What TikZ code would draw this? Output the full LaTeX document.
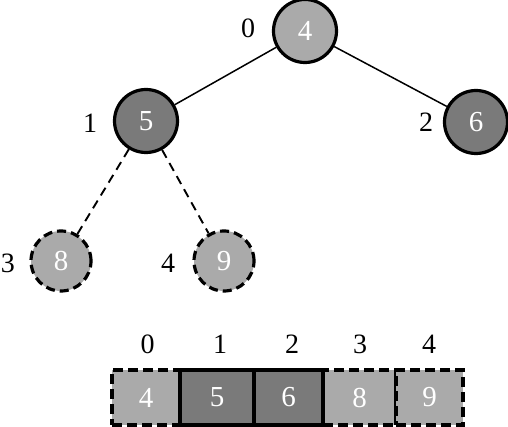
\documentclass[tikz,border=0pt]{standalone}
\usepackage{fontspec}
\setmainfont{Liberation Serif}
\definecolor{lightg}{RGB}{170,170,170}
\definecolor{darkg}{RGB}{122,122,122}
\tikzset{
  heapnode/.style={circle, minimum size=#1, inner sep=0pt, line width=3.2pt, text=white, font=\fontsize{29}{29}\selectfont},
  solidnode/.style={heapnode=63pt, draw=black, fill=darkg},
  rootnode/.style={heapnode=63pt, draw=black, fill=lightg},
  newnode/.style={heapnode=60pt, draw=black, fill=lightg, dash pattern=on 9pt off 5pt},
  idx/.style={font=\fontsize{28}{28}\selectfont, text=black, inner sep=0pt},
  cell/.style={rectangle, minimum height=55pt, inner sep=0pt, line width=3.2pt, text=white, font=\fontsize{29}{29}\selectfont},
  lcell/.style={cell, draw=black, fill=lightg, dash pattern=on 10pt off 5pt},
  dcell/.style={cell, draw=black, fill=darkg},
  tedge/.style={line width=1.5pt},
  dedge/.style={line width=1.9pt, dash pattern=on 9pt off 6pt}
}
\begin{document}
\begin{tikzpicture}[x=1pt,y=-1pt]
\useasboundingbox (0,0) rectangle (508,427);
% tree nodes
\node[rootnode] (r) at (305,31) {4};
\node[solidnode] (n5) at (146,121) {5};
\node[solidnode] (n6) at (476,122) {6};
\node[newnode] (n8) at (61,261) {8};
\node[newnode] (n9) at (224,261) {9};
% edges
\draw[tedge] (r) -- (n5);
\draw[tedge] (r) -- (n6);
\draw[dedge] (n5) -- (n8);
\draw[dedge] (n5) -- (n9);
% index labels on tree
\node[idx] (l0) at (248,28) {0};
\node[idx] (l1) at (90,123) {1};
\node[idx] (l2) at (426,122) {2};
\node[idx] (l3) at (8,263) {3};
\node[idx] (l4) at (168,263) {4};
% array
\node[lcell, minimum width=68pt] (a0) at (146,397.5) {4};
\node[lcell, minimum width=73pt] (a3) at (359.5,397.5) {8};
\node[lcell, minimum width=67pt] (a4) at (429.5,397.5) {9};
\node[dcell, minimum width=74pt] (a1) at (217,397.5) {5};
\node[dcell, minimum width=69pt] (a2) at (288.5,397.5) {6};
% array indices
\node[idx] (i0) at (147.5,344) {0};
\node[idx] (i1) at (220,344) {1};
\node[idx] (i2) at (292,344) {2};
\node[idx] (i3) at (360,344) {3};
\node[idx] (i4) at (429,344) {4};
\end{tikzpicture}
\end{document}
